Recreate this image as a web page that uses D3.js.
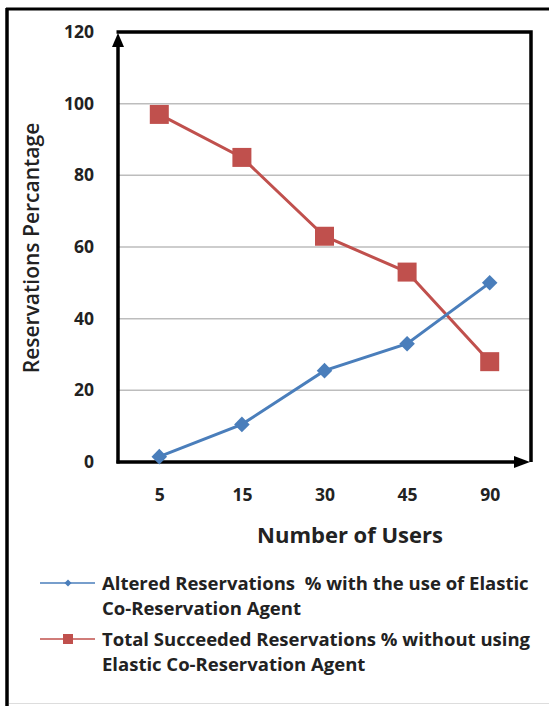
<!DOCTYPE html>
<html>
<head>
<meta charset="utf-8">
<script src="https://cdn.jsdelivr.net/npm/d3@7"></script>
<style>
  html, body { margin: 0; padding: 0; background: #fff; }
  svg { display: block; }
</style>
</head>
<body>
<div id="chart"></div>
<script>
// Reservations percentage vs number of users
const users = ['5', '15', '30', '45', '90'];
const altered = [1.5, 10.5, 25.5, 33, 50];
const succeeded = [97, 85, 63, 53, 28];
const yTicks = [0, 20, 40, 60, 80, 100, 120];
const seriesNames = [
  ['Altered Reservations  % with the use of Elastic', 'Co-Reservation Agent'],
  ['Total Succeeded Reservations % without using', 'Elastic Co-Reservation Agent']
];

const W = 549, H = 706;
const M = { top: 32, right: 18, bottom: 244, left: 118 };
const FONT = '"Open Sans", "DejaVu Sans", sans-serif';
const BLUE = '#4a7ebb';
const RED = '#c0504d';

const svg = d3.select('#chart').append('svg')
  .attr('width', W)
  .attr('height', H)
  .style('font-family', FONT);

// outer frame of the picture
svg.append('line').attr('x1', 7).attr('x2', 7).attr('y1', 8).attr('y2', H)
  .attr('stroke', '#000').attr('stroke-width', 3.5);
svg.append('line').attr('x1', 6).attr('x2', W).attr('y1', 9).attr('y2', 9)
  .attr('stroke', '#000').attr('stroke-width', 3);
svg.append('line').attr('x1', 9).attr('x2', W).attr('y1', 703.5).attr('y2', 703.5)
  .attr('stroke', '#ddd').attr('stroke-width', 1);

const x0 = M.left, x1 = W - M.right;
const yBottom = H - M.bottom;

const x = d3.scalePoint().domain(users).range([x0, x1]).padding(0.5);
const y = d3.scaleLinear().domain([0, 120]).range([yBottom, M.top]);

const g = svg.append('g');

// gridlines
g.selectAll('.grid')
  .data(yTicks.filter(d => d > 0 && d < 120))
  .enter().append('line')
  .attr('x1', x0).attr('x2', x1)
  .attr('y1', d => y(d)).attr('y2', d => y(d))
  .attr('stroke', '#bdbdbd').attr('stroke-width', 1.5);

// y tick labels
const yAxis = d3.axisLeft(y).tickValues(yTicks).tickSize(0).tickPadding(24);
const ya = g.append('g').attr('transform', `translate(${x0},0)`).call(yAxis);
ya.select('.domain').remove();
ya.selectAll('text')
  .style('font-family', FONT)
  .style('font-size', '17.5px')
  .style('font-weight', 700)
  .attr('fill', '#222');

// x tick labels
const xAxis = d3.axisBottom(x).tickSize(0).tickPadding(27);
const xa = g.append('g').attr('transform', `translate(0,${yBottom})`).call(xAxis);
xa.select('.domain').remove();
xa.selectAll('text')
  .style('font-family', FONT)
  .style('font-size', '17.5px')
  .style('font-weight', 700)
  .attr('fill', '#222');

// frame: top and right
g.append('path')
  .attr('d', `M${x0 - 1.5},${M.top} H${x1} V${yBottom}`)
  .attr('fill', 'none').attr('stroke', '#000').attr('stroke-width', 3.5);

// axes with arrows
g.append('line').attr('x1', x0).attr('x2', x0).attr('y1', yBottom + 1.5).attr('y2', M.top + 8)
  .attr('stroke', '#000').attr('stroke-width', 3.5);
g.append('path')
  .attr('d', `M${x0},${M.top + 1} L${x0 - 6},${M.top + 15} L${x0 + 6},${M.top + 15} Z`)
  .attr('fill', '#000');
g.append('line').attr('x1', x0 - 1.5).attr('x2', x1 - 10).attr('y1', yBottom).attr('y2', yBottom)
  .attr('stroke', '#000').attr('stroke-width', 3.5);
g.append('path')
  .attr('d', `M${x1 - 1},${yBottom} L${x1 - 17},${yBottom - 6} L${x1 - 17},${yBottom + 6} Z`)
  .attr('fill', '#000');

// lines
const line = d3.line().x((d, i) => x(users[i])).y(d => y(d));

g.append('path').datum(succeeded).attr('d', line)
  .attr('fill', 'none').attr('stroke', RED).attr('stroke-width', 3);
g.append('path').datum(altered).attr('d', line)
  .attr('fill', 'none').attr('stroke', BLUE).attr('stroke-width', 3);

const square = d3.symbol().type(d3.symbolSquare).size(19 * 19);
const diamond = d3.symbol().type(d3.symbolSquare).size(11 * 11);

g.selectAll('.sq')
  .data(succeeded)
  .enter().append('path')
  .attr('d', square)
  .attr('transform', (d, i) => `translate(${x(users[i])},${y(d)})`)
  .attr('fill', RED);

g.selectAll('.dm')
  .data(altered)
  .enter().append('path')
  .attr('d', diamond)
  .attr('transform', (d, i) => `translate(${x(users[i])},${y(d)}) rotate(45)`)
  .attr('fill', BLUE);

// axis titles
svg.append('text')
  .attr('transform', `translate(39,248) rotate(-90)`)
  .attr('text-anchor', 'middle')
  .style('font-size', '21px')
  .style('font-weight', 600)
  .attr('fill', '#222')
  .text('Reservations Percantage');

svg.append('text')
  .attr('x', 350).attr('y', 543)
  .attr('text-anchor', 'middle')
  .style('font-size', '22px')
  .style('font-weight', 700)
  .attr('fill', '#222')
  .text('Number of Users');

// legend
const legend = svg.append('g');
const legY = [583, 639];
const legColors = [BLUE, RED];
seriesNames.forEach((lines, k) => {
  const ly = legY[k];
  legend.append('line').attr('x1', 40).attr('x2', 95).attr('y1', ly).attr('y2', ly)
    .attr('stroke', legColors[k]).attr('stroke-width', 1.5);
  legend.append('path')
    .attr('d', k === 0 ? d3.symbol().type(d3.symbolSquare).size(25)() : d3.symbol().type(d3.symbolSquare).size(100)())
    .attr('transform', k === 0 ? `translate(68,${ly}) rotate(45)` : `translate(68,${ly})`)
    .attr('fill', legColors[k]);
  lines.forEach((t, j) => {
    legend.append('text')
      .attr('x', 102).attr('y', ly + 7 + j * 25)
      .attr('xml:space', 'preserve')
      .style('white-space', 'pre')
      .style('font-size', '18.5px')
      .style('font-weight', 700)
      .attr('fill', '#222')
      .text(t);
  });
});
</script>
</body>
</html>
